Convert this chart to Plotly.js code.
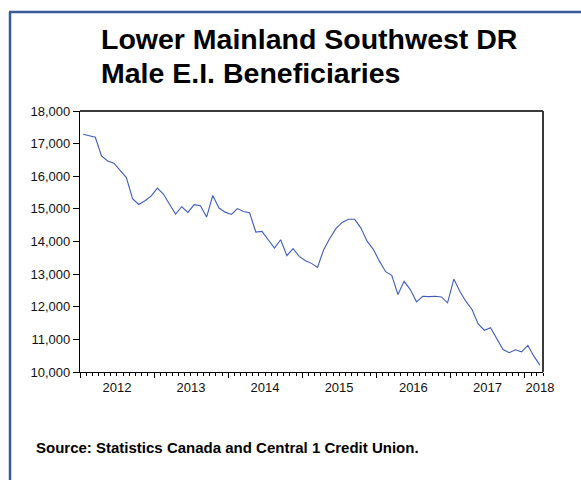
<!DOCTYPE html>
<html>
<head>
<meta charset="utf-8">
<script src="https://cdn.plot.ly/plotly-3.0.1.min.js"></script>
<style>html,body{margin:0;padding:0;background:#fff;}#chart{width:581px;height:480px;}</style>
</head>
<body>
<div id="chart"></div>
<script>
// Monthly data, Jan 2012 - Mar 2018
const months = [
  '2012-01','2012-02','2012-03','2012-04','2012-05','2012-06','2012-07','2012-08','2012-09','2012-10','2012-11','2012-12',
  '2013-01','2013-02','2013-03','2013-04','2013-05','2013-06','2013-07','2013-08','2013-09','2013-10','2013-11','2013-12',
  '2014-01','2014-02','2014-03','2014-04','2014-05','2014-06','2014-07','2014-08','2014-09','2014-10','2014-11','2014-12',
  '2015-01','2015-02','2015-03','2015-04','2015-05','2015-06','2015-07','2015-08','2015-09','2015-10','2015-11','2015-12',
  '2016-01','2016-02','2016-03','2016-04','2016-05','2016-06','2016-07','2016-08','2016-09','2016-10','2016-11','2016-12',
  '2017-01','2017-02','2017-03','2017-04','2017-05','2017-06','2017-07','2017-08','2017-09','2017-10','2017-11','2017-12',
  '2018-01','2018-02','2018-03'
];
const beneficiaries = [
  17290,17235,17195,16620,16470,16400,16175,15960,15310,15135,15250,15390,
  15635,15455,15150,14840,15065,14890,15130,15095,14750,15410,15025,14900,
  14830,15010,14920,14880,14290,14310,14055,13800,14055,13565,13780,13545,
  13410,13330,13205,13750,14100,14400,14585,14680,14680,14410,14010,13760,
  13390,13075,12965,12375,12780,12525,12150,12320,12310,12320,12300,12120,
  12850,12475,12170,11915,11475,11280,11355,11000,10690,10590,10680,10620,
  10815,10485,10210
];
const yearTicks = ['2012-01-01','2013-01-01','2014-01-01','2015-01-01','2016-01-01','2017-01-01','2018-01-01'];
const yearLabelPos = ['2012-07-01','2013-07-01','2014-07-01','2015-07-01','2016-07-01','2017-07-01','2018-03-17'];
const yearLabels = ['2012','2013','2014','2015','2016','2017','2018'];
const yTicks = [10000,11000,12000,13000,14000,15000,16000,17000,18000];
const titleLines = ['Lower Mainland Southwest DR', 'Male E.I. Beneficiaries'];
const sourceText = 'Source: Statistics Canada and Central 1 Credit Union.';

const FONT = 'Liberation Sans, Arial, Helvetica, sans-serif';
const xRange = ['2012-01-01','2018-04-01'];

const trace = {
  x: months, y: beneficiaries, type: 'scatter', mode: 'lines',
  xperiod: 'M1', xperiodalignment: 'middle',
  line: {color: '#3d5cc0', width: 1.1},
  hoverinfo: 'skip'
};
// carrier so the label axis (x2) is drawn; draws nothing
const labelCarrier = {
  x: months, y: beneficiaries, type: 'scatter', mode: 'none',
  xaxis: 'x2', yaxis: 'y', hoverinfo: 'skip', showlegend: false
};

const frameColor = '#3b5a98';
const px = v => (v - 80) / 463;
const py = v => (372 - v) / 261;

const layout = {
  width: 581, height: 480,
  margin: {l: 80, r: 38, t: 111, b: 108},
  paper_bgcolor: '#fff', plot_bgcolor: '#fff',
  showlegend: false,
  font: {family: FONT, color: '#111', size: 13},
  xaxis: {
    type: 'date', range: xRange,
    tickmode: 'array', tickvals: yearTicks, showticklabels: false,
    ticks: 'outside', ticklen: 5, tickwidth: 1, tickcolor: '#000',
    minor: {ticks: 'outside', ticklen: 3, tickwidth: 1, tickcolor: '#000', dtick: 'M1', tick0: '2012-01-01', showgrid: false},
    showline: true, linecolor: '#000', linewidth: 1.2,
    showgrid: false, zeroline: false, fixedrange: true
  },
  xaxis2: {
    type: 'date', range: xRange, overlaying: 'x', anchor: 'y', side: 'bottom',
    tickmode: 'array', tickvals: yearLabelPos, ticktext: yearLabels,
    ticks: '', ticklabelstandoff: 6,
    tickfont: {family: FONT, size: 13, color: '#111'},
    showline: false, showgrid: false, zeroline: false, fixedrange: true
  },
  yaxis: {
    range: [10000, 18000],
    tickmode: 'array', tickvals: yTicks, tickformat: ',d',
    ticks: 'outside', ticklen: 6, tickwidth: 1, tickcolor: '#000',
    tickfont: {family: FONT, size: 13, color: '#111'},
    showline: true, linecolor: '#000', linewidth: 1.2,
    showgrid: false, zeroline: false, fixedrange: true
  },
  shapes: [
    {type: 'line', xref: 'paper', yref: 'paper', x0: 0, x1: 1, y0: 1, y1: 1, line: {color: '#3a3a3a', width: 2}},
    {type: 'line', xref: 'paper', yref: 'paper', x0: 1, x1: 1, y0: 0, y1: 1, line: {color: '#3a3a3a', width: 2}},
    {type: 'line', xref: 'paper', yref: 'paper', x0: px(9), x1: px(585), y0: py(12), y1: py(12), line: {color: frameColor, width: 2.5}},
    {type: 'line', xref: 'paper', yref: 'paper', x0: px(10), x1: px(10), y0: py(12), y1: py(485), line: {color: frameColor, width: 2.5}}
  ],
  annotations: [
    {text: '<b>' + titleLines[0] + '</b>', xref: 'paper', yref: 'paper', x: px(99), y: py(39),
     xanchor: 'left', yanchor: 'middle', showarrow: false,
     font: {family: FONT, size: 28.5, color: '#000'}},
    {text: '<b>' + titleLines[1] + '</b>', xref: 'paper', yref: 'paper', x: px(99), y: py(73),
     xanchor: 'left', yanchor: 'middle', showarrow: false,
     font: {family: FONT, size: 28.5, color: '#000'}},
    {text: '<b>' + sourceText + '</b>',
     xref: 'paper', yref: 'paper', x: px(34), y: py(447),
     xanchor: 'left', yanchor: 'middle', showarrow: false,
     font: {family: FONT, size: 15, color: '#000'}}
  ]
};

Plotly.newPlot('chart', [trace, labelCarrier], layout, {staticPlot: true, displayModeBar: false});
</script>
</body>
</html>
